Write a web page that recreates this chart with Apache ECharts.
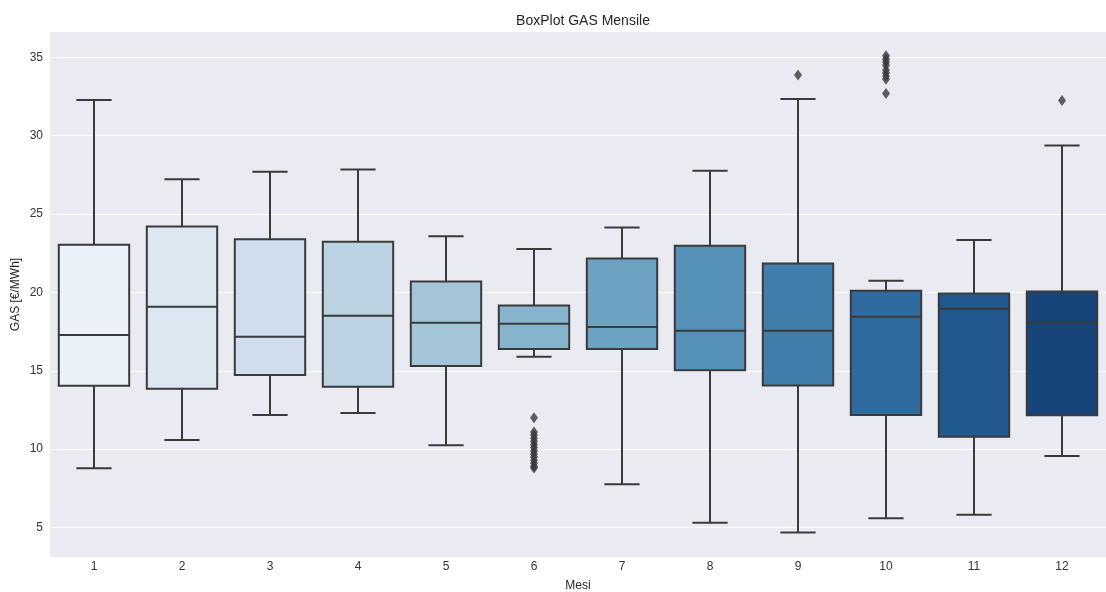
<!DOCTYPE html>
<html>
<head>
<meta charset="utf-8">
<script src="https://cdn.jsdelivr.net/npm/echarts@6/dist/echarts.min.js"></script>
<style>html,body{margin:0;padding:0;background:#fff}#c{width:1106px;height:592px}</style>
</head>
<body>
<div id="c"></div>
<script>
var categories = ['1','2','3','4','5','6','7','8','9','10','11','12'];
var whiskerLow  = [8.78, 10.59, 12.18, 12.31, 10.25, 15.90, 7.76, 5.30, 4.68, 5.60, 5.81, 9.57];
var q1          = [14.05, 13.86, 14.73, 13.99, 15.31, 16.39, 16.39, 15.03, 14.07, 12.18, 10.80, 12.16];
var medians     = [17.28, 19.09, 17.18, 18.51, 18.07, 18.00, 17.79, 17.56, 17.56, 18.45, 18.96, 18.07];
var q3          = [23.04, 24.21, 23.40, 23.23, 20.70, 19.17, 22.17, 22.98, 21.85, 20.11, 19.94, 20.06];
var whiskerHigh = [32.28, 27.22, 27.71, 27.84, 23.59, 22.78, 24.14, 27.76, 32.34, 20.74, 23.34, 29.37];
var outliers = [
  [], [], [], [], [],
  [12.0, 11.1, 10.9, 10.7, 10.5, 10.3, 10.1, 9.9, 9.7, 9.5, 9.3, 9.1, 8.9, 8.8],
  [], [],
  [33.87],
  [35.1, 34.9, 34.7, 34.5, 34.2, 34.0, 33.8, 33.6, 32.7],
  [],
  [32.25]
];
var yTicks = [5, 10, 15, 20, 25, 30, 35];
var boxColors = ['#eaf1f8','#dce7f2','#cfdded','#bad2e2','#a3c5d7','#87b4cd','#6da2c3','#5591b7','#427eab','#306b9f','#20588f','#184579'];

var boxData = categories.map(function (c, i) {
  return [i, whiskerLow[i], q1[i], medians[i], q3[i], whiskerHigh[i]];
});
var outlierData = [];
outliers.forEach(function (arr, i) {
  arr.forEach(function (v) { outlierData.push([i, v]); });
});

var LINE = '#3a3a3a';
var FONT = 'Liberation Sans, Arial, sans-serif';
var chart = echarts.init(document.getElementById('c'), null, {renderer: 'canvas'});
chart.setOption({
  animation: false,
  backgroundColor: '#ffffff',
  title: {
    text: 'BoxPlot GAS Mensile',
    left: 578, top: 9, textAlign: 'center',
    textStyle: {fontFamily: FONT, fontSize: 14, fontWeight: 'normal', color: '#262626'}
  },
  grid: {left: 50, right: 0, top: 32, bottom: 35, show: true, backgroundColor: '#eaeaf2', borderWidth: 0,
         containLabel: false, outerBoundsMode: 'none'},
  xAxis: {
    type: 'category',
    data: categories,
    name: 'Mesi',
    nameLocation: 'middle',
    nameGap: 23,
    nameMoveOverlap: false,
    nameTextStyle: {fontFamily: FONT, fontSize: 12, color: '#262626'},
    axisLine: {show: false},
    axisTick: {show: false},
    splitLine: {show: false},
    axisLabel: {margin: 4, fontFamily: FONT, fontSize: 12, color: '#333333'}
  },
  yAxis: {
    type: 'value',
    min: 3.12,
    max: 36.62,
    name: 'GAS [€/MWh]',
    nameLocation: 'middle',
    nameGap: 28,
    nameMoveOverlap: false,
    nameRotate: 90,
    nameTextStyle: {fontFamily: FONT, fontSize: 12, color: '#262626'},
    axisLine: {show: false},
    axisTick: {show: false, customValues: yTicks},
    axisLabel: {customValues: yTicks, margin: 7, fontFamily: FONT, fontSize: 12, color: '#333333'},
    splitLine: {show: true, lineStyle: {color: '#ffffff', width: 1.2}}
  },
  series: [
    {
      type: 'custom',
      data: boxData,
      encode: {x: 0, y: [1, 2, 3, 4, 5]},
      z: 2,
      renderItem: function (params, api) {
        var x = api.value(0);
        var lo = api.coord([x, api.value(1)]);
        var b1 = api.coord([x, api.value(2)]);
        var md = api.coord([x, api.value(3)]);
        var b3 = api.coord([x, api.value(4)]);
        var hi = api.coord([x, api.value(5)]);
        var bw = api.size([1, 0])[0];
        var half = bw * 0.4, cap = bw * 0.2, cx = lo[0];
        var st = {stroke: LINE, lineWidth: 2, fill: null};
        return {
          type: 'group',
          children: [
            {type: 'line', shape: {x1: cx, y1: hi[1], x2: cx, y2: b3[1]}, style: st},
            {type: 'line', shape: {x1: cx, y1: b1[1], x2: cx, y2: lo[1]}, style: st},
            {type: 'line', shape: {x1: cx - cap, y1: hi[1], x2: cx + cap, y2: hi[1]}, style: st},
            {type: 'line', shape: {x1: cx - cap, y1: lo[1], x2: cx + cap, y2: lo[1]}, style: st},
            {type: 'rect', shape: {x: cx - half, y: b3[1], width: 2 * half, height: b1[1] - b3[1]},
             style: {fill: boxColors[params.dataIndex], stroke: LINE, lineWidth: 2}},
            {type: 'line', shape: {x1: cx - half, y1: md[1], x2: cx + half, y2: md[1]}, style: st}
          ]
        };
      }
    },
    {
      type: 'scatter',
      data: outlierData,
      symbol: 'diamond',
      symbolSize: [8, 11],
      itemStyle: {color: LINE},
      z: 3
    }
  ]
});
</script>
</body>
</html>
